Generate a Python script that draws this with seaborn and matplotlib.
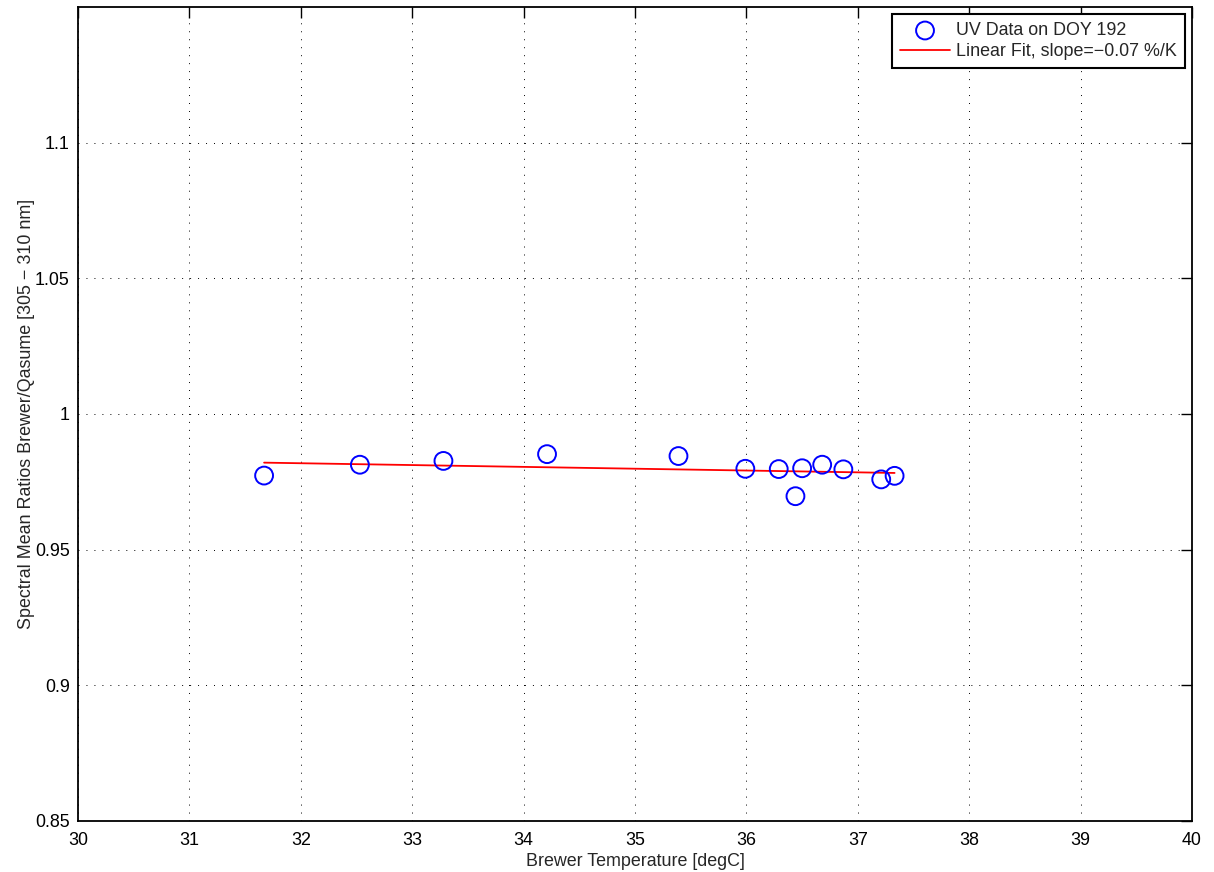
import numpy as np
import pandas as pd
import seaborn as sns
from matplotlib import pyplot as plt

# Brewer temperature [degC] and spectral mean ratio
temperature = [31.67, 32.53, 33.28, 34.21, 35.39, 35.99, 36.29, 36.50, 36.44, 36.68, 36.87, 37.21, 37.33]
ratio = [0.9773, 0.9813, 0.9827, 0.9852, 0.9845, 0.9798, 0.9797, 0.9800, 0.9697, 0.9813, 0.9796, 0.9759, 0.9772]

data = pd.DataFrame({'temp': temperature, 'ratio': ratio})

# linear fit over the measured range
coef = np.polyfit(data['temp'], data['ratio'], 1)
fit = pd.DataFrame({'temp': [data['temp'].min(), data['temp'].max()]})
fit['ratio'] = np.polyval(coef, fit['temp'])
slope_pct = coef[0] / data['ratio'].mean() * 100

sns.set_style('white')
plt.rcParams['font.family'] = ['Liberation Sans', 'DejaVu Sans']
fs = 12.9

fig = plt.figure(figsize=(12.14, 8.72), dpi=100)
ax = fig.add_axes([0.0643, 0.0585, 0.9176, 0.9335])

sns.scatterplot(data, x='temp', y='ratio', marker='o', s=165, facecolor='none',
                edgecolor='blue', linewidth=1.4, label='UV Data on DOY 192', ax=ax, zorder=3)
sns.lineplot(fit, x='temp', y='ratio', color='red', linewidth=1.3,
             label=f'Linear Fit, slope=\u2212{abs(slope_pct):.2f} %/K', ax=ax, zorder=2)

ax.set_xlim(30, 40)
ax.set_ylim(0.85, 1.15)
ax.set_xticks(range(30, 41))
ax.set_yticks([0.85, 0.9, 0.95, 1.0, 1.05, 1.1])
ax.set_yticklabels(['0.85', '0.9', '0.95', '1', '1.05', '1.1'])
ax.grid(True, color='black', linestyle=(0, (1, 7.2)), linewidth=0.7)
ax.tick_params(direction='in', length=8, width=1, top=True, right=True, labelsize=fs, colors='black', pad=6)
ax.tick_params(axis='x', pad=8)
for spine in ax.spines.values():
    spine.set_color('black')
    spine.set_linewidth(1.3)
ax.set_xlabel('Brewer Temperature [degC]', fontsize=fs, labelpad=3)
ax.set_ylabel('Spectral Mean Ratios Brewer/Qasume [305 \u2212 310 nm]', fontsize=fs, labelpad=0)

leg = ax.legend(loc='upper right', fancybox=False, framealpha=1, edgecolor='black',
                fontsize=fs, borderaxespad=0.4, handlelength=2.75, handletextpad=0.35,
                borderpad=0.45, labelspacing=0.2)
leg.get_frame().set_linewidth(1.5)

fig.savefig('out.png', dpi=100)
